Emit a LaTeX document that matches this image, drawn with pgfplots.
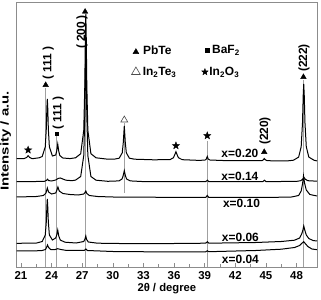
\documentclass[border=0pt]{standalone}
\usepackage{fontspec}
\setmainfont{Liberation Sans}
\usepackage{graphicx}
\usepackage{pgfplots}
\pgfplotsset{compat=1.18}
\usetikzlibrary{plotmarks}
\definecolor{refgray}{RGB}{160,160,160}
\definecolor{framegray}{RGB}{140,140,140}
\pgfdeclareplotmark{fstar}{%
 \pgfpathmoveto{\pgfpointpolar{90}{\pgfplotmarksize}}%
 \pgfpathlineto{\pgfpointpolar{126}{0.42*\pgfplotmarksize}}%
 \pgfpathlineto{\pgfpointpolar{162}{\pgfplotmarksize}}%
 \pgfpathlineto{\pgfpointpolar{198}{0.42*\pgfplotmarksize}}%
 \pgfpathlineto{\pgfpointpolar{234}{\pgfplotmarksize}}%
 \pgfpathlineto{\pgfpointpolar{270}{0.42*\pgfplotmarksize}}%
 \pgfpathlineto{\pgfpointpolar{306}{\pgfplotmarksize}}%
 \pgfpathlineto{\pgfpointpolar{342}{0.42*\pgfplotmarksize}}%
 \pgfpathlineto{\pgfpointpolar{18}{\pgfplotmarksize}}%
 \pgfpathlineto{\pgfpointpolar{54}{0.42*\pgfplotmarksize}}%
 \pgfpathclose\pgfusepathqfillstroke}
\newcommand{\lf}{\fontsize{12}{14}\selectfont\bfseries}
\begin{document}
\begin{tikzpicture}
\useasboundingbox (-16.7bp,-33bp) rectangle (304.3bp,267bp);
\begin{axis}[
  at={(0,0)}, anchor=south west,
  scale only axis, width=300.3bp, height=264.3bp,
  xmin=20.58, xmax=50, ymin=33, ymax=297.3,
  clip=false,
  axis line style={framegray, line width=0.8bp},
  xtick={21,24,...,48}, minor x tick num=1, ytick=\empty,
  xtick pos=lower, tick align=inside,
  major tick length=4bp, minor tick length=2.5bp,
  tick style={framegray, line width=0.6bp},
  /pgf/number format/assume math mode=true,
  ticklabel style={font=\fontsize{11.5}{13}\selectfont\bfseries},
  xticklabel style={anchor=base, inner sep=0pt, yshift=-12.2bp},
  xlabel={2θ / degree},
  xlabel style={at={(axis description cs:0.5,0)}, anchor=base, inner sep=0pt, yshift=-24.8bp, font=\fontsize{11.3}{13}\selectfont\bfseries},
  ylabel={\scalebox{1.3}[1]{Intensity / a.u.}},
  ylabel style={at={(axis description cs:-0.0366,0.477)}, anchor=center, inner sep=0pt, font=\fontsize{11.5}{13}\selectfont\bfseries},
]
% reference drop lines
\addplot[refgray, line width=0.8bp] coordinates {(23.42,33) (23.42,212)};
\addplot[refgray, line width=0.8bp] coordinates {(24.5,33) (24.5,164)};
\addplot[refgray, line width=0.8bp] coordinates {(27.28,33) (27.28,285)};
\addplot[refgray, line width=0.8bp] coordinates {(31.12,107) (31.12,177)};
\addplot[refgray, line width=0.8bp] coordinates {(39.25,33) (39.25,159)};
\addplot[refgray, line width=0.8bp] coordinates {(48.67,33) (48.67,220)};
% x = 0.20
\addplot[black, line width=1bp] coordinates {
(20.58,141.5) (21.3,141.4) (21.55,142.5) (21.7,144.3) (21.85,142.5) (22.1,141.3) (22.78,142.2) (23.08,143.5) (23.38,153.2) (23.48,171.2) (23.54,192.9) (23.58,201) (23.62,192.9) (23.68,171.2) (23.78,153.2) (24.08,144) (24.4,145) (24.5,149.1) (24.6,155.9) (24.7,148.8) (24.8,144.5) (25.1,142) (25.8,141.4) (26.35,142.2) (26.85,146.3) (27.15,169.8) (27.25,213.3) (27.31,265.8) (27.35,286) (27.39,265.8) (27.45,213.3) (27.55,169.8) (27.85,146.3) (28.35,142.2) (29.5,140.8) (30.12,140.8) (30.62,141.8) (30.92,147.2) (31.02,157.3) (31.12,174) (31.22,157.3) (31.32,147.2) (31.62,141.8) (32.12,140.8) (34,140.2) (35.6,140.4) (35.93,142.2) (36.05,144.9) (36.18,148.3) (36.31,144.9) (36.43,142.2) (36.8,140.3) (38.5,139.6) (39.05,140) (39.15,140.9) (39.25,143.5) (39.35,140.9) (39.5,140) (41,139.4) (44.6,139.3) (44.75,140.2) (44.83,141.5) (44.95,140.2) (45.1,139.3) (47,139) (47.7,139.8) (48.2,142.9) (48.45,153.2) (48.58,177.3) (48.65,204.7) (48.7,216) (48.75,204.7) (48.82,177.3) (48.95,153.2) (49.2,142.9) (49.7,139.8) (50,139.1)};
% x = 0.14
\addplot[black, line width=1bp] coordinates {
(20.58,118.4) (22.5,118.5) (23.3,118.7) (23.5,119.6) (23.6,120.8) (23.72,119.4) (24.0,119) (24.4,120) (24.65,121.6) (24.85,122) (25.05,121.2) (25.4,119.8) (26.0,119.3) (26.35,119.9) (26.85,123.5) (27.15,144.5) (27.25,184.5) (27.31,231.5) (27.35,250) (27.39,231.5) (27.45,184.5) (27.55,144.5) (27.85,123.5) (28.35,119.8) (29.5,118.7) (30.6,119.1) (30.9,121) (31.0,123.9) (31.12,129.3) (31.24,123.9) (31.35,121) (31.7,119.1) (33,118.4) (39.1,118.3) (39.25,119.8) (39.4,118.3) (44.7,118.4) (44.85,119.8) (45.0,118.4) (48.0,118.6) (48.4,119.3) (48.6,120.8) (48.72,122.5) (48.85,120.8) (49.1,119.3) (50,118.8)};
% x = 0.10
\addplot[black, line width=1bp] coordinates {
(20.58,103) (22.5,103.5) (23.2,104.5) (23.45,107) (23.58,112) (23.7,108) (24.0,106) (24.4,107) (24.52,110) (24.62,113) (24.75,109) (25.1,106.5) (25.8,105.5) (26.6,105) (27.15,106) (27.27,107.5) (27.35,109) (27.45,106.5) (27.7,104.5) (28.5,103.5) (30,103) (35,102.7) (39.1,102.6) (39.25,104.5) (39.4,102.6) (45,102.5) (47.5,103) (48.2,104.5) (48.45,109) (48.58,116) (48.68,124) (48.78,117) (48.95,110) (49.3,105.5) (50,104)};
% x = 0.06
\addplot[black, line width=1bp] coordinates {
(20.58,56.7) (22.5,56.9) (23.08,58.5) (23.38,65) (23.48,78) (23.54,94) (23.58,101) (23.62,94) (23.68,78) (23.78,65) (24.08,60) (24.4,62) (24.5,65) (24.6,70) (24.7,64) (24.85,60) (25.3,57.8) (26.4,57) (27.15,58.5) (27.27,61) (27.35,64) (27.43,60.5) (27.6,58) (28.5,56.8) (32,56.3) (36,56.5) (39.1,56.8) (39.25,58.3) (39.4,56.8) (44,57.5) (46.5,58.5) (47.8,59.8) (48.3,62) (48.5,66) (48.62,70) (48.7,74) (48.8,70) (48.95,65) (49.2,61.5) (49.6,59.5) (50,59)};
% x = 0.04
\addplot[black, line width=1bp] coordinates {
(20.58,49) (23.0,49.3) (23.4,50.5) (23.52,53) (23.6,55) (23.7,52.5) (23.9,50.5) (24.3,50.3) (24.6,51.3) (24.9,50.5) (25.5,49.5) (27.2,49.5) (27.35,51) (27.5,49.5) (30,48.5) (36,48) (39.1,48.2) (39.25,49.2) (39.4,48.3) (44,49.5) (46.5,50.8) (47.8,52.5) (48.3,54.5) (48.55,57) (48.7,58.3) (48.85,56.5) (49.1,53.5) (49.5,51) (50,50.3)};
% phase markers
\addplot[only marks, mark=triangle*, mark size=3.2bp, black] coordinates {(23.42,215) (27.28,288.3) (44.83,148) (48.67,223)};
\addplot[only marks, mark=square*, mark size=1.7bp, black] coordinates {(24.5,166)};
\addplot[only marks, mark=triangle, mark size=4bp, black!70, mark options={fill=white, line width=0.6bp}] coordinates {(31.12,180)};
\addplot[only marks, mark=fstar, mark size=3.8bp, black] coordinates {(21.7,150) (36.18,154.3) (39.25,164.3)};
% legend symbols
\addplot[only marks, mark=triangle*, mark size=3.4bp, black] coordinates {(32.26,248)};
\addplot[only marks, mark=square*, mark size=2.1bp, black] coordinates {(39.22,250)};
\addplot[only marks, mark=triangle, mark size=5bp, black!70, mark options={line width=0.6bp}] coordinates {(32.26,228)};
\addplot[only marks, mark=fstar, mark size=3.4bp, black] coordinates {(39.02,228)};
% legend texts
\node[anchor=base west, font=\lf, inner sep=0pt] at (axis cs:32.95,245) {PbTe};
\node[anchor=base west, font=\lf, inner sep=0pt] at (axis cs:39.71,246) {BaF\textsubscript{2}};
\node[anchor=base west, font=\lf, inner sep=0pt] at (axis cs:32.92,224) {In\textsubscript{2}Te\textsubscript{3}};
\node[anchor=base west, font=\lf, inner sep=0pt] at (axis cs:39.44,224) {In\textsubscript{2}O\textsubscript{3}};
% peak labels
\node[rotate=90, font=\lf, inner sep=0pt] at (axis cs:23.67,237) {(\hspace{3pt}111\hspace{3pt})};
\node[rotate=90, font=\lf, inner sep=0pt] at (axis cs:24.65,187) {(\hspace{3pt}111\hspace{3pt})};
\node[rotate=90, font=\lf, inner sep=0pt] at (axis cs:26.97,268) {(\hspace{3pt}200\hspace{3pt})};
\node[rotate=90, font=\lf, inner sep=0pt] at (axis cs:44.9,169) {(220)};
\node[rotate=90, font=\lf, inner sep=0pt] at (axis cs:48.72,242) {(222)};
% sample labels
\node[font=\lf, inner sep=0pt] at (axis cs:42.45,147) {x=0.20};
\node[font=\lf, inner sep=0pt] at (axis cs:42.45,123.5) {x=0.14};
\node[font=\lf, inner sep=0pt] at (axis cs:42.6,97) {x=0.10};
\node[font=\lf, inner sep=0pt] at (axis cs:42.5,63) {x=0.06};
\node[font=\lf, inner sep=0pt] at (axis cs:42.5,41) {x=0.04};
\end{axis}
\end{tikzpicture}
\end{document}
